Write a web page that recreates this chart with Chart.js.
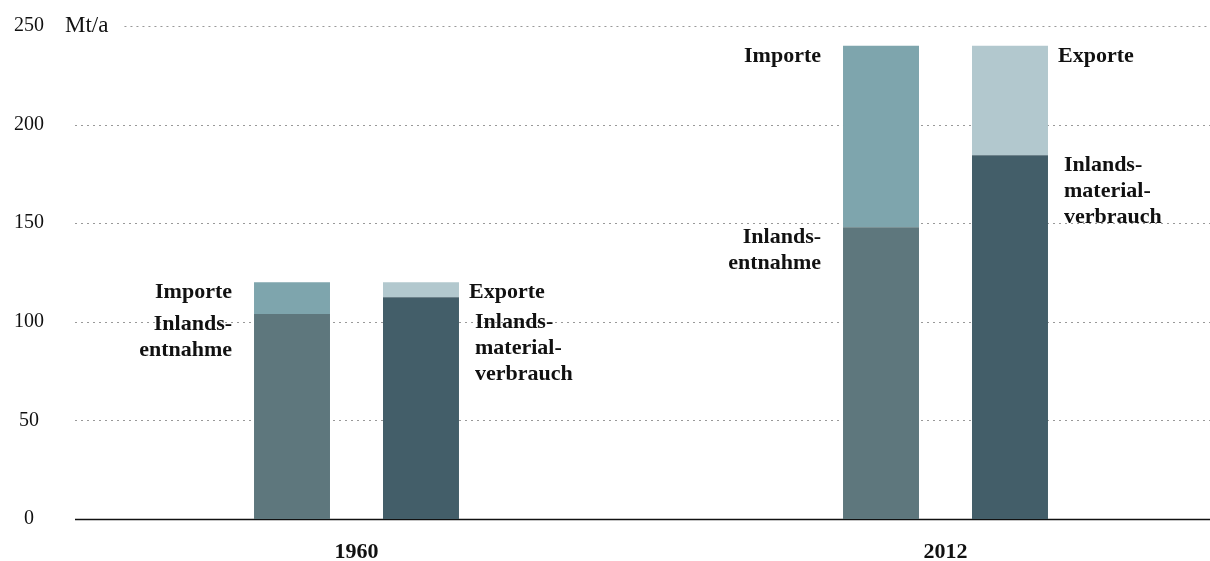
<!DOCTYPE html>
<html>
<head>
<meta charset="utf-8">
<script src="https://cdn.jsdelivr.net/npm/chart.js@4"></script>
<style>
  html, body { margin: 0; padding: 0; background: #fff; overflow: hidden; }
</style>
</head>
<body>
<canvas id="chart" width="1240" height="561"></canvas>
<script>
// data (Mt/a)
const years = ['1960', '2012'];
const inlandsentnahme = [104, 148];
const importe = [16, 92];
const inlandsmaterialverbrauch = [112.5, 184.5];
const exporte = [7.5, 55.5];
const yTicks = [0, 50, 100, 150, 200, 250];
const unitLabel = 'Mt/a';

const serif = '"Liberation Serif", "Times New Roman", serif';

// dotted grid + baseline + unit label, drawn under the bars
const gridPlugin = {
    id: 'dottedGrid',
    beforeDatasetsDraw(chart) {
        const { ctx, scales: { y } } = chart;
        ctx.save();
        ctx.font = '23px ' + serif;
        const unitX = 65;
        const unitW = ctx.measureText(unitLabel).width;
        yTicks.forEach(v => {
            const py = Math.round(y.getPixelForValue(v)) + 0.5;
            ctx.beginPath();
            if (v === 0) {
                ctx.setLineDash([]);
                ctx.strokeStyle = '#111';
                ctx.lineWidth = 1.5;
            } else {
                ctx.setLineDash([2, 4]);
                ctx.strokeStyle = '#999';
                ctx.lineWidth = 1;
            }
            const x0 = v === yTicks[yTicks.length - 1] ? unitX + unitW + 16 : 75;
            ctx.moveTo(x0, py);
            ctx.lineTo(1210, py);
            ctx.stroke();
        });
        ctx.fillStyle = '#111';
        ctx.textAlign = 'left';
        ctx.textBaseline = 'middle';
        ctx.fillText(unitLabel, unitX, y.getPixelForValue(yTicks[yTicks.length - 1]));
        ctx.restore();
    }
};

// segment names beside each bar
const labelPlugin = {
    id: 'segmentLabels',
    afterDatasetsDraw(chart) {
        const ctx = chart.ctx;
        ctx.save();
        ctx.font = 'bold 22px ' + serif;
        ctx.fillStyle = '#111';
        ctx.textBaseline = 'alphabetic';
        years.forEach((yr, i) => {
            // [top segment, lower segment, side]
            [[1, 0, 'left'], [3, 2, 'right']].forEach(([topIdx, lowIdx, side]) => {
                let minBase = -Infinity;
                [topIdx, lowIdx].forEach(di => {
                    const bar = chart.getDatasetMeta(di).data[i];
                    const ds = chart.data.datasets[di];
                    const base = Math.max(bar.y + 16, minBase);
                    const x = side === 'left'
                        ? bar.x - bar.width / 2 - ds.labelGap
                        : bar.x + bar.width / 2 + ds.labelGap;
                    ctx.textAlign = side === 'left' ? 'right' : 'left';
                    ds.labelLines.forEach((t, k) => ctx.fillText(t, x, base + k * 26));
                    minBase = base + (ds.labelLines.length - 1) * 26 + 30;
                });
            });
        });
        ctx.restore();
    }
};

const ctx = document.getElementById('chart').getContext('2d');
new Chart(ctx, {
    type: 'bar',
    data: {
        labels: years,
        datasets: [
            { label: 'Inlandsentnahme', data: inlandsentnahme, stack: 'in',
              backgroundColor: '#5e777d', labelLines: ['Inlands-', 'entnahme'], labelGap: 22 },
            { label: 'Importe', data: importe, stack: 'in',
              backgroundColor: '#7ea5ad', labelLines: ['Importe'], labelGap: 22 },
            { label: 'Inlandsmaterialverbrauch', data: inlandsmaterialverbrauch, stack: 'out',
              backgroundColor: '#435e69', labelLines: ['Inlands-', 'material-', 'verbrauch'], labelGap: 16 },
            { label: 'Exporte', data: exporte, stack: 'out',
              backgroundColor: '#b2c8ce', labelLines: ['Exporte'], labelGap: 10 }
        ]
    },
    options: {
        responsive: false,
        animation: false,
        categoryPercentage: 0.438,
        barPercentage: 0.589,
        layout: { padding: { top: 26, right: 0, bottom: 0, left: 0 } },
        plugins: {
            legend: { display: false },
            tooltip: { enabled: false }
        },
        scales: {
            x: {
                grid: { display: false },
                border: { display: false },
                ticks: {
                    color: '#111',
                    padding: 12,
                    font: { family: serif, size: 22, weight: 'bold' }
                },
                afterFit(scale) { scale.height = 42; }
            },
            y: {
                min: 0,
                max: 250,
                stacked: true,
                grid: { display: false },
                border: { display: false },
                ticks: {
                    stepSize: 50,
                    color: '#111',
                    padding: 10,
                    crossAlign: 'center',
                    font: { family: serif, size: 20 }
                },
                afterFit(scale) { scale.width = 62; }
            }
        }
    },
    plugins: [gridPlugin, labelPlugin]
});
</script>
</body>
</html>
